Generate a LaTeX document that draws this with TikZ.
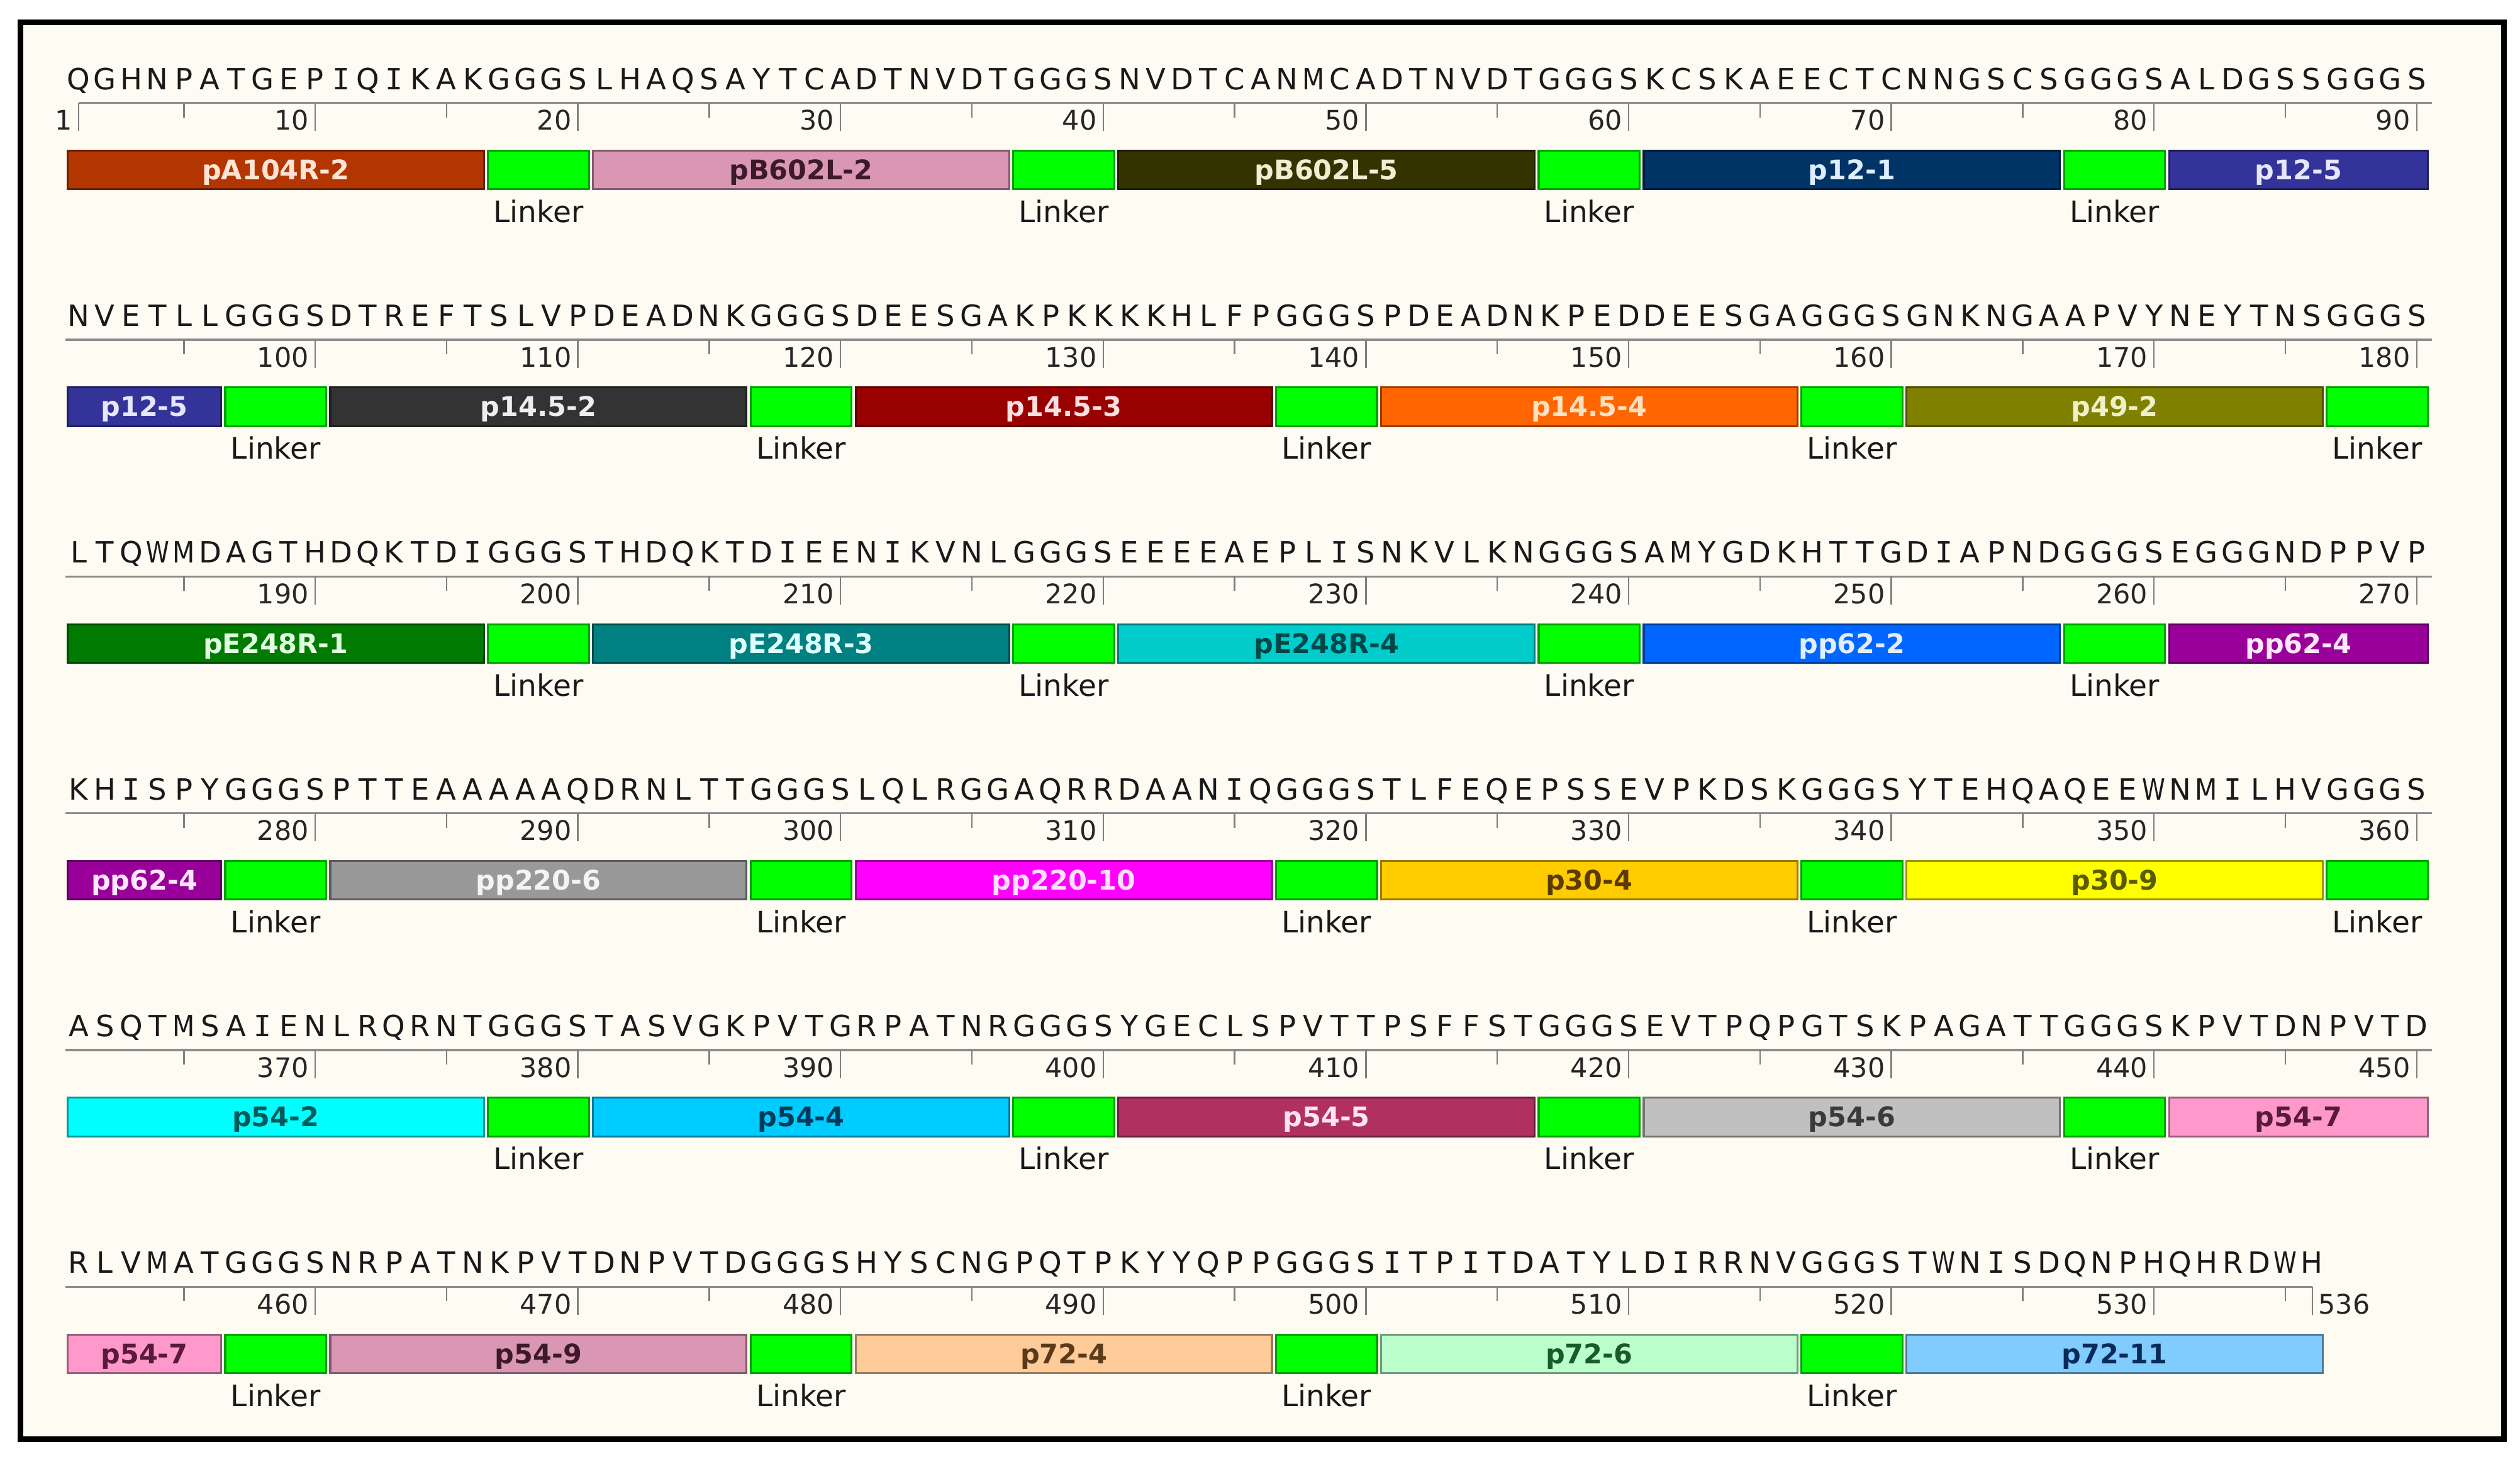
\documentclass[tikz,border=0pt]{standalone}
\usepackage{fontspec}
\setmainfont{DejaVu Sans}
\newfontfamily\seqmono{DejaVu Sans Mono}
\definecolor{cream}{RGB}{254,251,243}
\definecolor{linkg}{HTML}{00FF00}
\definecolor{linkd}{HTML}{00A000}
\definecolor{cA}{HTML}{B33600}\definecolor{cAt}{HTML}{FFE4D6}
\definecolor{cB}{HTML}{D997B3}\definecolor{cBt}{HTML}{3D1A2A}
\definecolor{cC}{HTML}{333300}\definecolor{cCt}{HTML}{F0EED0}
\definecolor{cD}{HTML}{003366}\definecolor{cDt}{HTML}{DDEEFF}
\definecolor{cE}{HTML}{333399}\definecolor{cEt}{HTML}{E6E6FF}
\definecolor{cF}{HTML}{333333}\definecolor{cFt}{HTML}{EEEEEE}
\definecolor{cG}{HTML}{990000}\definecolor{cGt}{HTML}{FFE0E0}
\definecolor{cH}{HTML}{FF6600}\definecolor{cHt}{HTML}{FFE0C0}
\definecolor{cI}{HTML}{808000}\definecolor{cIt}{HTML}{F0F0C8}
\definecolor{cJ}{HTML}{007A00}\definecolor{cJt}{HTML}{E0FFE0}
\definecolor{cK}{HTML}{008080}\definecolor{cKt}{HTML}{E0FFFF}
\definecolor{cL}{HTML}{00CCCC}\definecolor{cLt}{HTML}{004848}
\definecolor{cM}{HTML}{0066FF}\definecolor{cMt}{HTML}{E0EEFF}
\definecolor{cN}{HTML}{990099}\definecolor{cNt}{HTML}{FFE8FF}
\definecolor{cO}{HTML}{999999}\definecolor{cOt}{HTML}{F4F4F4}
\definecolor{cP}{HTML}{FF00FF}\definecolor{cPt}{HTML}{FFE0FF}
\definecolor{cQ}{HTML}{FFCC00}\definecolor{cQt}{HTML}{5A3A00}
\definecolor{cR}{HTML}{FFFF00}\definecolor{cRt}{HTML}{5A5A00}
\definecolor{cS}{HTML}{00FFFF}\definecolor{cSt}{HTML}{005A5A}
\definecolor{cT}{HTML}{00CCFF}\definecolor{cTt}{HTML}{003A5A}
\definecolor{cU}{HTML}{B03060}\definecolor{cUt}{HTML}{FFE4EE}
\definecolor{cV}{HTML}{C0C0C0}\definecolor{cVt}{HTML}{3A3A3A}
\definecolor{cW}{HTML}{FF99CC}\definecolor{cWt}{HTML}{5A1A3A}
\definecolor{cX}{HTML}{D997B3}\definecolor{cXt}{HTML}{3D1A2A}
\definecolor{cY}{HTML}{FFCC99}\definecolor{cYt}{HTML}{5A3A1A}
\definecolor{cZ}{HTML}{BBFFCC}\definecolor{cZt}{HTML}{1A5A2A}
\definecolor{cAA}{HTML}{80CCFF}\definecolor{cAAt}{HTML}{0A2A5A}

\def\seqspread#1{\seqspreadi#1\relax}
\def\seqspreadi#1{\ifx#1\relax\else\hbox to 16.345pt{\hss\seqchar#1\hss}\expandafter\seqspreadi\fi}
\def\seqchar#1{\if I#1{\seqmono I}\else\if W#1\scalebox{0.8}[1]{W}\else\if M#1\scalebox{0.88}[1]{M}\else #1\fi\fi\fi}

\tikzset{
  seqtext/.style={inner sep=0pt, outer sep=0pt, font=\fontsize{18.2}{20}\selectfont, text=black!90},
  numlab/.style={inner sep=0pt, font=\fontsize{16.8}{18}\selectfont, text=black!85},
  barbox/.style={inner sep=0pt, outer sep=0pt, minimum height=24pt, line width=1.2pt,
    font=\bfseries\fontsize{16.8}{18}\selectfont, text height=12.2pt, text depth=0pt},
  linklabel/.style={inner sep=0pt, font=\fontsize{18.4}{20}\selectfont, text=black!90},
  tickline/.style={draw=black!50, line width=1pt},
  rulerline/.style={draw=black!45, line width=1.3pt},
  frameline/.style={draw=black, line width=3.5pt},
}

\newcommand\mkepi[6]{%
  \pgfmathsetmacro\xa{40.8+(#3-1)*16.345+1.25}%
  \pgfmathsetmacro\xb{40.8+#4*16.345-1.25}%
  \pgfmathsetmacro\ww{\xb-\xa}%
  \pgfmathsetmacro\xc{(\xa+\xb)/2}%
  \pgfmathsetmacro\yc{64+#2*147.3+41.7}%
  \node[barbox, fill=#5, draw=#5!60!black, text=#5t, minimum width=\ww pt] (#1) at (\xc,\yc) {#6};}

\newcommand\mklink[4]{%
  \pgfmathsetmacro\xa{40.8+(#3-1)*16.345+1.25}%
  \pgfmathsetmacro\xb{40.8+#4*16.345-1.25}%
  \pgfmathsetmacro\ww{\xb-\xa}%
  \pgfmathsetmacro\xc{(\xa+\xb)/2}%
  \pgfmathsetmacro\yc{64+#2*147.3+41.7}%
  \pgfmathsetmacro\yl{64+#2*147.3+74.4}%
  \node[barbox, fill=linkg, draw=linkd, minimum width=\ww pt] (#1) at (\xc,\yc) {};
  \node[linklabel, anchor=base] (#1-t) at (\xc,\yl) {Linker};}

\begin{document}
\begin{tikzpicture}[x=1pt, y=-1pt]
\useasboundingbox (0,0) rectangle (1568,907.3);
\fill[white] (0,0) rectangle (1568,907.3);
\fill[cream] (12.8,14) rectangle (1558,895.3);
\draw[frameline] (12.8,14) rectangle (1558,895.3);

% sequences
\node[seqtext, anchor=base west] (seq1) at (40.8,55.6) {\seqspread{QGHNPATGEPIQIKAKGGGSLHAQSAYTCADTNVDTGGGSNVDTCANMCADTNVDTGGGSKCSKAEECTCNNGSCSGGGSALDGSSGGGS}};
\node[seqtext, anchor=base west] (seq2) at (40.8,202.9) {\seqspread{NVETLLGGGSDTREFTSLVPDEADNKGGGSDEESGAKPKKKKHLFPGGGSPDEADNKPEDDEESGAGGGSGNKNGAAPVYNEYTNSGGGS}};
\node[seqtext, anchor=base west] (seq3) at (40.8,350.2) {\seqspread{LTQWMDAGTHDQKTDIGGGSTHDQKTDIEENIKVNLGGGSEEEEAEPLISNKVLKNGGGSAMYGDKHTTGDIAPNDGGGSEGGGNDPPVP}};
\node[seqtext, anchor=base west] (seq4) at (40.8,497.5) {\seqspread{KHISPYGGGSPTTEAAAAAQDRNLTTGGGSLQLRGGAQRRDAANIQGGGSTLFEQEPSSEVPKDSKGGGSYTEHQAQEEWNMILHVGGGS}};
\node[seqtext, anchor=base west] (seq5) at (40.8,644.8) {\seqspread{ASQTMSAIENLRQRNTGGGSTASVGKPVTGRPATNRGGGSYGECLSPVTTPSFFSTGGGSEVTPQPGTSKPAGATTGGGSKPVTDNPVTD}};
\node[seqtext, anchor=base west] (seq6) at (40.8,792.1) {\seqspread{RLVMATGGGSNRPATNKPVTDNPVTDGGGSHYSCNGPQTPKYYQPPGGGSITPITDATYLDIRRNVGGGSTWNISDQNPHQHRDWH}};

% rulers
\draw[rulerline] (49,64) -- (1513,64);
\draw[rulerline] (40.8,211.3) -- (1513,211.3);
\draw[rulerline] (40.8,358.6) -- (1513,358.6);
\draw[rulerline] (40.8,505.9) -- (1513,505.9);
\draw[rulerline] (40.8,653.2) -- (1513,653.2);
\draw[rulerline] (40.8,800.5) -- (1438.8,800.5);

\foreach \rr in {0,...,5}{
  \pgfmathsetmacro\ry{64+\rr*147.3}
  \foreach \cc in {5,10,...,90}{
    \pgfmathtruncatemacro\nn{90*\rr+\cc}
    \pgfmathsetmacro\tx{49+(\cc-1)*16.345}
    \pgfmathtruncatemacro\tkm{mod(\cc,10)}
    \ifnum\nn<537
      \ifnum\tkm=0
        \draw[tickline] (\tx,\ry) -- (\tx,\ry+17.5);
        \node[numlab, anchor=base east] (num\nn) at (\tx-3.8,\ry+17) {\nn};
      \else
        \draw[tickline] (\tx,\ry) -- (\tx,\ry+9);
      \fi
    \fi
  }
}
\draw[tickline] (49,64) -- (49,81.5);
\node[numlab, anchor=base east] (num1) at (45.2,81) {1};
\draw[tickline] (1438.8,800.5) -- (1438.8,818);
\node[numlab, anchor=base west] (num536) at (1442.4,817.5) {536};

% row 1
\mkepi{e1}{0}{1}{16}{cA}{pA104R-2}
\mklink{k1}{0}{17}{20}
\mkepi{e2}{0}{21}{36}{cB}{pB602L-2}
\mklink{k2}{0}{37}{40}
\mkepi{e3}{0}{41}{56}{cC}{pB602L-5}
\mklink{k3}{0}{57}{60}
\mkepi{e4}{0}{61}{76}{cD}{p12-1}
\mklink{k4}{0}{77}{80}
\mkepi{e5a}{0}{81}{90}{cE}{p12-5}
% row 2
\mkepi{e5b}{1}{1}{6}{cE}{p12-5}
\mklink{k5}{1}{7}{10}
\mkepi{e6}{1}{11}{26}{cF}{p14.5-2}
\mklink{k6}{1}{27}{30}
\mkepi{e7}{1}{31}{46}{cG}{p14.5-3}
\mklink{k7}{1}{47}{50}
\mkepi{e8}{1}{51}{66}{cH}{p14.5-4}
\mklink{k8}{1}{67}{70}
\mkepi{e9}{1}{71}{86}{cI}{p49-2}
\mklink{k9}{1}{87}{90}
% row 3
\mkepi{e10}{2}{1}{16}{cJ}{pE248R-1}
\mklink{k10}{2}{17}{20}
\mkepi{e11}{2}{21}{36}{cK}{pE248R-3}
\mklink{k11}{2}{37}{40}
\mkepi{e12}{2}{41}{56}{cL}{pE248R-4}
\mklink{k12}{2}{57}{60}
\mkepi{e13}{2}{61}{76}{cM}{pp62-2}
\mklink{k13}{2}{77}{80}
\mkepi{e14a}{2}{81}{90}{cN}{pp62-4}
% row 4
\mkepi{e14b}{3}{1}{6}{cN}{pp62-4}
\mklink{k14}{3}{7}{10}
\mkepi{e15}{3}{11}{26}{cO}{pp220-6}
\mklink{k15}{3}{27}{30}
\mkepi{e16}{3}{31}{46}{cP}{pp220-10}
\mklink{k16}{3}{47}{50}
\mkepi{e17}{3}{51}{66}{cQ}{p30-4}
\mklink{k17}{3}{67}{70}
\mkepi{e18}{3}{71}{86}{cR}{p30-9}
\mklink{k18}{3}{87}{90}
% row 5
\mkepi{e19}{4}{1}{16}{cS}{p54-2}
\mklink{k19}{4}{17}{20}
\mkepi{e20}{4}{21}{36}{cT}{p54-4}
\mklink{k20}{4}{37}{40}
\mkepi{e21}{4}{41}{56}{cU}{p54-5}
\mklink{k21}{4}{57}{60}
\mkepi{e22}{4}{61}{76}{cV}{p54-6}
\mklink{k22}{4}{77}{80}
\mkepi{e23a}{4}{81}{90}{cW}{p54-7}
% row 6
\mkepi{e23b}{5}{1}{6}{cW}{p54-7}
\mklink{k23}{5}{7}{10}
\mkepi{e24}{5}{11}{26}{cX}{p54-9}
\mklink{k24}{5}{27}{30}
\mkepi{e25}{5}{31}{46}{cY}{p72-4}
\mklink{k25}{5}{47}{50}
\mkepi{e26}{5}{51}{66}{cZ}{p72-6}
\mklink{k26}{5}{67}{70}
\mkepi{e27}{5}{71}{86}{cAA}{p72-11}
\end{tikzpicture}
\end{document}
